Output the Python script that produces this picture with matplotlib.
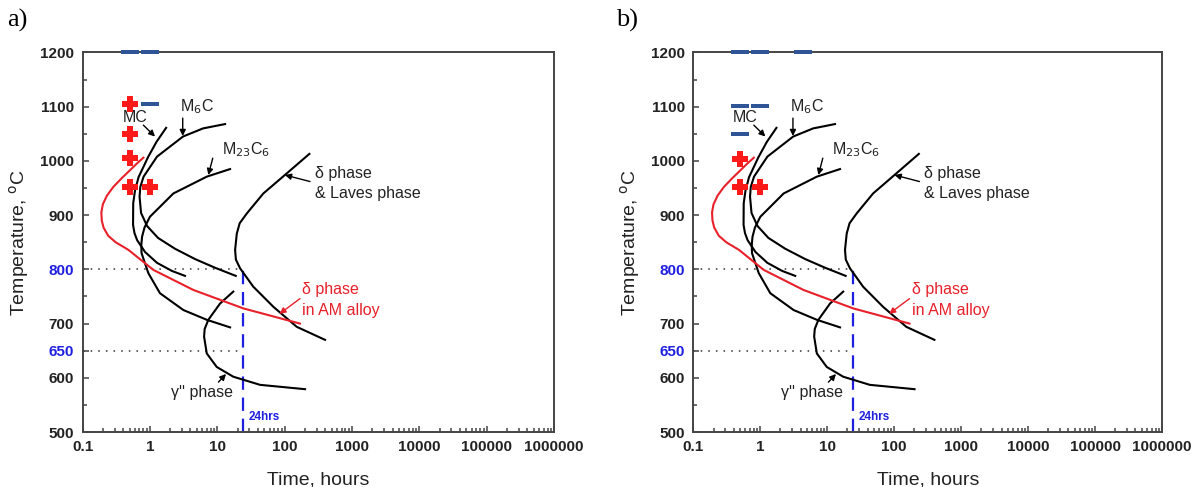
import matplotlib.pyplot as plt
import matplotlib.ticker as mticker

plt.rcParams['font.family'] = ['Liberation Sans', 'DejaVu Sans']

# --- curves (time in hours, temperature in C) ---
mc_t = [1.74, 1.25, 0.938, 0.678, 0.60, 0.565, 0.562, 0.59, 0.645, 0.847, 1.276, 2.13, 3.32]
mc_T = [1061, 1035, 1007, 970, 945, 922, 882, 867, 854, 832, 812, 797, 788]

m6c_t = [13.05, 6.15, 3.10, 1.276, 0.805, 0.72, 0.702, 0.739, 0.907, 1.32, 2.36, 4.68, 9.27, 18.8]
m6c_T = [1068, 1060, 1045, 1008, 971, 952, 934, 904, 880, 858, 838, 819, 803, 788]

m23_t = [15.5, 6.98, 2.23, 1.0, 0.83, 0.764, 0.745, 0.751, 0.948, 1.41, 3.14, 6.98, 15.5]
m23_T = [985, 971, 940, 897, 877, 860, 845, 830, 793, 756, 725, 707, 693]

delta_t = [233, 107.5, 48.3, 27.4, 21.5, 19.5, 18.4, 18.9, 21.8, 34.3, 68, 151.4, 398]
delta_T = [1013, 977, 940, 903, 885, 866, 836, 818, 802, 768, 731, 694, 670]

gpp_t = [17.3, 11.0, 7.37, 6.5, 6.37, 6.98, 9.82, 17.3, 43.2, 201]
gpp_T = [759, 737, 707, 690, 676, 645, 620, 602, 587, 579]

am_t = [0.80, 0.65, 0.507, 0.38, 0.286, 0.23, 0.20, 0.19, 0.193, 0.205, 0.24, 0.31, 0.479, 1.125, 4.42, 24.4, 169]
am_T = [1006, 996, 983, 968, 952, 936, 920, 905, 890, 877, 862, 850, 836, 799, 762, 728, 700]

# --- experiment markers per panel ---
a_cross_t = [0.5, 0.5, 0.5, 0.5, 1]
a_cross_T = [1105, 1050, 1005, 952, 952]
a_dash_t = [0.5, 1, 1]
a_dash_T = [1200, 1200, 1105]

b_cross_t = [0.5, 0.5, 1]
b_cross_T = [1003, 951, 951]
b_dash_t = [0.5, 1, 4.3, 0.5, 1, 0.5]
b_dash_T = [1200, 1200, 1200, 1102, 1102, 1050]

xticks = [0.1, 1, 10, 100, 1000, 10000, 100000, 1000000]
xlabels = ['0.1', '1', '10', '100', '1000', '10000', '100000', '1000000']
yticks = [500, 600, 650, 700, 800, 900, 1000, 1100, 1200]

BLUE_DASH = '#2f5597'
RED = '#e8202a'
TXT = '#222222'
dash_marker = [(-1, -0.24), (1, -0.24), (1, 0.24), (-1, 0.24), (-1, -0.24)]


def draw_panel(ax, cross_t, cross_T, dash_t, dash_T):
    ax.set_xscale('log')
    ax.set_xlim(0.1, 1000000)
    ax.set_ylim(500, 1200)

    # reference lines
    ax.plot([0.1, 24], [800, 800], color='#333333', lw=1.1, ls=(0, (1, 4)))
    ax.plot([0.1, 24], [650, 650], color='#333333', lw=1.1, ls=(0, (1, 4)))
    ax.plot([24, 24], [500, 800], color='#1f1fe0', lw=1.6, ls=(0, (6, 3.5)))

    for t, T in [(mc_t, mc_T), (m6c_t, m6c_T), (m23_t, m23_T),
                 (delta_t, delta_T), (gpp_t, gpp_T)]:
        ax.plot(t, T, color='black', lw=1.5)
    ax.plot(am_t, am_T, color=RED, lw=1.5)

    ax.plot(cross_t, cross_T, ls='none', marker='P', ms=11, color='#ff1a1a',
            mew=0, clip_on=False, zorder=5)
    ax.plot(dash_t, dash_T, ls='none', marker=dash_marker, ms=13, color=BLUE_DASH,
            mew=0, clip_on=False, zorder=5)

    arr = dict(arrowstyle='-|>', color='black', lw=1.0, mutation_scale=9,
               shrinkA=0, shrinkB=0)
    ax.annotate('', xy=(1.19, 1045), xytext=(0.80, 1066), arrowprops=arr)
    ax.annotate('', xy=(3.07, 1046), xytext=(3.07, 1079), arrowprops=arr)
    ax.annotate('', xy=(7.37, 974), xytext=(8.57, 1005), arrowprops=arr)
    ax.annotate('', xy=(101, 974), xytext=(238, 962), arrowprops=arr)
    ax.annotate('', xy=(13.5, 607), xytext=(10.4, 592), arrowprops=arr)
    ax.annotate('', xy=(84, 718), xytext=(169, 746),
                arrowprops=dict(arr, color=RED))

    fs = 11.5
    ax.text(0.60, 1081, 'MC', ha='center', va='center', fontsize=fs, color=TXT)
    ax.text(4.96, 1101, 'M$_6$C', ha='center', va='center', fontsize=fs, color=TXT)
    ax.text(27, 1020, 'M$_{23}$C$_6$', ha='center', va='center', fontsize=fs, color=TXT)
    ax.text(283, 977, 'δ phase', ha='left', va='center', fontsize=fs, color=TXT)
    ax.text(283, 940, '& Laves phase', ha='left', va='center', fontsize=fs, color=TXT)
    ax.text(184, 762, 'δ phase', ha='left', va='center', fontsize=fs, color=RED)
    ax.text(184, 725, 'in AM alloy', ha='left', va='center', fontsize=fs, color=RED)
    ax.text(5.94, 572, "γ'' phase", ha='center', va='center', fontsize=fs, color=TXT)
    ax.text(29.7, 528, '24hrs', ha='left', va='center', fontsize=8.5,
            color='#1f1fe0', fontweight='bold')

    ax.set_xticks(xticks)
    ax.set_xticklabels(xlabels)
    ax.xaxis.set_minor_locator(mticker.LogLocator(base=10, subs=range(2, 10), numticks=20))
    ax.xaxis.set_minor_formatter(mticker.NullFormatter())
    ax.set_yticks(yticks)
    ax.yaxis.set_minor_locator(mticker.FixedLocator([550, 750, 850, 950, 1050, 1150]))
    ax.tick_params(which='both', direction='in', top=False, right=False,
                   color='#444444', width=1.1)
    ax.tick_params(which='major', length=4.5, pad=6, labelsize=11, labelcolor=TXT)
    ax.tick_params(which='minor', length=3)
    for lab in ax.get_xticklabels() + ax.get_yticklabels():
        lab.set_fontweight('bold')
    for lab in ax.get_yticklabels():
        if lab.get_text() in ('650', '800'):
            lab.set_color('#1f1fe0')
    for s in ax.spines.values():
        s.set_color('#444444')
        s.set_linewidth(1.4)

    ax.set_xlabel('Time, hours', fontsize=14, color=TXT)
    ax.set_ylabel('Temperature, $^{\\mathrm{o}}$C', fontsize=14, color=TXT)
    ax.xaxis.set_label_coords(0.5, -0.105)
    ax.yaxis.set_label_coords(-0.11, 0.5)


fig = plt.figure(figsize=(12, 4.87), dpi=100)
ax1 = fig.add_axes([0.0688, 0.1129, 0.3929, 0.7793])
ax2 = fig.add_axes([0.5778, 0.1129, 0.3906, 0.7793])
draw_panel(ax1, a_cross_t, a_cross_T, a_dash_t, a_dash_T)
draw_panel(ax2, b_cross_t, b_cross_T, b_dash_t, b_dash_T)

fig.text(0.006, 0.958, 'a)', fontsize=19, family='Liberation Serif', va='center')
fig.text(0.513, 0.958, 'b)', fontsize=19, family='Liberation Serif', va='center')

fig.savefig('out.png', dpi=100)
